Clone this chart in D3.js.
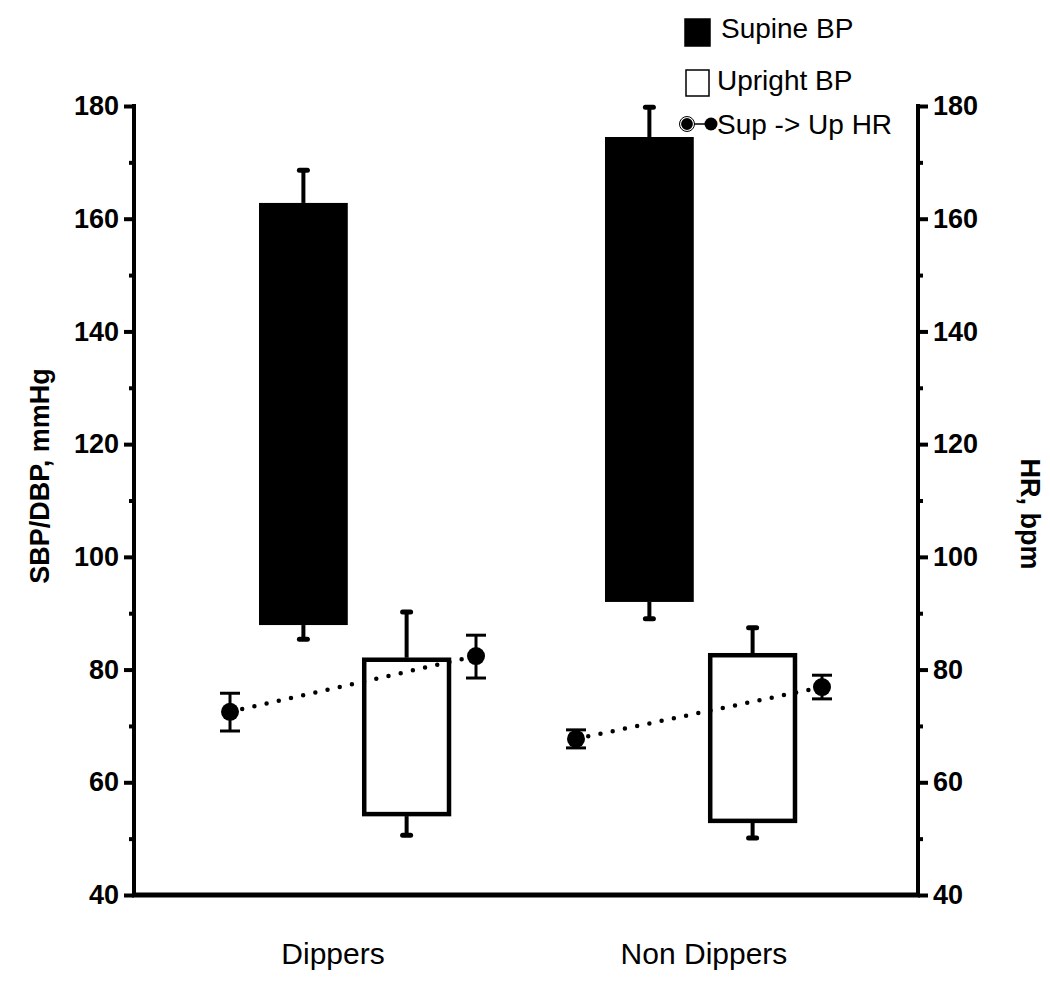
<!DOCTYPE html>
<meta charset="utf-8">
<script src="https://d3js.org/d3.v7.min.js"></script>
<style>
  body { margin: 0; background: #fff; }
  text { font-family: "Liberation Sans", Arial, sans-serif; fill: #000; }
</style>
<div id="chart"></div>
<script>

// groups and series
var groups = ["Dippers", "Non Dippers"];
var bpSeries = ["Supine BP", "Upright BP"];

// floating BP bars: SBP (top) and DBP (bottom) with error
var sbp      = [[162.8, 82.1], [174.5, 82.9]];   // [supine, upright] per group
var sbpErr   = [[168.6, 90.2], [179.8, 87.4]];
var dbp      = [[87.9, 54.0], [92.0, 52.8]];
var dbpErr   = [[85.4, 50.6], [89.0, 50.1]];

// heart rate supine -> upright
var hrPhase = ["sup", "up"];
var hr      = [[72.5, 82.4], [67.7, 76.9]];
var hrLow   = [[69.1, 78.5], [66.1, 74.8]];
var hrHigh  = [[75.8, 86.1], [69.3, 79.0]];

var majorTicks = [40, 60, 80, 100, 120, 140, 160, 180];
var minorTicks = [50, 70, 90, 110, 130, 150, 170];

var width = 1050, height = 1001;
var plotLeft = 134, plotRight = 918, plotTop = 106, plotBottom = 895;

var svg = d3.select("#chart").append("svg")
  .attr("width", width)
  .attr("height", height);

// scales
var y = d3.scaleLinear().domain([40, 180]).range([plotBottom, plotTop]);
var y2 = d3.scaleLinear().domain([40, 180]).range([plotBottom, plotTop]);

var x0 = d3.scalePoint().domain(groups).range([plotLeft, plotRight]).padding(0.633);
var x1 = d3.scaleBand().domain(bpSeries).range([-94, 98]).paddingInner(0.14);
var xh = d3.scalePoint().domain(hrPhase).range([-123, 123]);

// bars
groups.forEach(function(g, gi) {
  var gx = x0(g);
  bpSeries.forEach(function(s, si) {
    var bx = gx + x1(s), bw = x1.bandwidth(), cx = bx + bw / 2;
    var filled = si === 0;

    // error lines (one-sided)
    [[sbp[gi][si], sbpErr[gi][si]], [dbp[gi][si], dbpErr[gi][si]]].forEach(function(e) {
      svg.append("line")
        .attr("x1", cx).attr("x2", cx)
        .attr("y1", y(e[0])).attr("y2", y(e[1]))
        .attr("stroke", "#000").attr("stroke-width", 4);
      svg.append("line")
        .attr("x1", cx - 4).attr("x2", cx + 4)
        .attr("y1", y(e[1])).attr("y2", y(e[1]))
        .attr("stroke", "#000").attr("stroke-width", 5)
        .attr("stroke-linecap", "round");
    });

    svg.append("rect")
      .attr("x", filled ? bx : bx + 2)
      .attr("y", filled ? y(sbp[gi][si]) : y(sbp[gi][si]) + 2)
      .attr("width", filled ? bw : bw - 4)
      .attr("height", y(dbp[gi][si]) - y(sbp[gi][si]) - (filled ? 0 : 4))
      .attr("fill", filled ? "#000" : "#fff")
      .attr("stroke", "#000")
      .attr("stroke-width", filled ? 0 : 4.5);
  });

  // HR dotted line
  svg.append("line")
    .attr("x1", gx + xh("sup")).attr("y1", y2(hr[gi][0]))
    .attr("x2", gx + xh("up")).attr("y2", y2(hr[gi][1]))
    .attr("stroke", "#000").attr("stroke-width", 4.5)
    .attr("stroke-linecap", "round")
    .attr("stroke-dasharray", "0,12.5");

  hrPhase.forEach(function(p, pi) {
    var px = gx + xh(p);
    svg.append("line")
      .attr("x1", px).attr("x2", px)
      .attr("y1", y2(hrLow[gi][pi])).attr("y2", y2(hrHigh[gi][pi]))
      .attr("stroke", "#000").attr("stroke-width", 3);
    [hrLow[gi][pi], hrHigh[gi][pi]].forEach(function(v) {
      svg.append("line")
        .attr("x1", px - 10).attr("x2", px + 10)
        .attr("y1", y2(v)).attr("y2", y2(v))
        .attr("stroke", "#000").attr("stroke-width", 3);
    });
    svg.append("circle")
      .attr("cx", px).attr("cy", y2(hr[gi][pi]))
      .attr("r", 9).attr("fill", "#000");
  });
});

// axes
function styleAxis(a) {
  a.select(".domain").remove();
  a.selectAll(".tick line").attr("stroke", "#000").attr("stroke-width", 4);
  a.selectAll(".tick text")
    .style("font-family", "'Liberation Sans', Arial, sans-serif")
    .style("font-size", "27px").style("font-weight", "bold")
    .attr("fill", "#000");
}

var leftMajor = svg.append("g").attr("transform", "translate(" + plotLeft + ",0)")
  .call(d3.axisLeft(y).tickValues(majorTicks).tickSize(10).tickPadding(5).tickFormat(d3.format("d")));
styleAxis(leftMajor);
var leftMinor = svg.append("g").attr("transform", "translate(" + plotLeft + ",0)")
  .call(d3.axisLeft(y).tickValues(minorTicks).tickSize(5).tickFormat(""));
styleAxis(leftMinor);

var rightMajor = svg.append("g").attr("transform", "translate(" + plotRight + ",0)")
  .call(d3.axisRight(y2).tickValues(majorTicks).tickSize(10).tickPadding(5).tickFormat(d3.format("d")));
styleAxis(rightMajor);
var rightMinor = svg.append("g").attr("transform", "translate(" + plotRight + ",0)")
  .call(d3.axisRight(y2).tickValues(minorTicks).tickSize(5).tickFormat(""));
styleAxis(rightMinor);

// axis lines
svg.append("line").attr("x1", plotLeft).attr("x2", plotLeft).attr("y1", plotTop - 2).attr("y2", plotBottom + 2)
  .attr("stroke", "#000").attr("stroke-width", 4);
svg.append("line").attr("x1", plotRight).attr("x2", plotRight).attr("y1", plotTop - 2).attr("y2", plotBottom + 2)
  .attr("stroke", "#000").attr("stroke-width", 4);
svg.append("line").attr("x1", plotLeft - 2).attr("x2", plotRight + 2).attr("y1", plotBottom).attr("y2", plotBottom)
  .attr("stroke", "#000").attr("stroke-width", 5);

// category labels
groups.forEach(function(g, gi) {
  svg.append("text")
    .attr("x", x0(g) + (gi === 0 ? -20 : 5))
    .attr("y", 964)
    .attr("text-anchor", "middle")
    .style("font-size", "30px")
    .text(g);
});

// axis titles
svg.append("text")
  .attr("transform", "translate(49,476) rotate(-90)")
  .attr("text-anchor", "middle")
  .style("font-size", "27px").style("font-weight", "bold")
  .text("SBP/DBP, mmHg");

svg.append("text")
  .attr("transform", "translate(1021,514) rotate(90)")
  .attr("text-anchor", "middle")
  .style("font-size", "27px").style("font-weight", "bold")
  .text("HR, bpm");

// legend
var lg = svg.append("g");
lg.append("rect").attr("x", 685).attr("y", 19).attr("width", 25).attr("height", 27)
  .attr("fill", "#000").attr("stroke", "#000").attr("stroke-width", 1.5);
lg.append("text").attr("x", 721).attr("y", 38).style("font-size", "28px").text(bpSeries[0]);

lg.append("rect").attr("x", 686).attr("y", 70).attr("width", 23).attr("height", 26)
  .attr("fill", "#fff").attr("stroke", "#000").attr("stroke-width", 1.5);
lg.append("text").attr("x", 717).attr("y", 90).style("font-size", "28px").text(bpSeries[1]);

lg.append("line").attr("x1", 687).attr("x2", 711).attr("y1", 124).attr("y2", 124)
  .attr("stroke", "#000").attr("stroke-width", 1.5);
lg.append("circle").attr("cx", 687).attr("cy", 124).attr("r", 6.5)
  .attr("fill", "#000").attr("stroke", "#fff").attr("stroke-width", 1.2);
lg.append("circle").attr("cx", 687).attr("cy", 124).attr("r", 7.5)
  .attr("fill", "none").attr("stroke", "#000").attr("stroke-width", 1);
lg.append("circle").attr("cx", 711).attr("cy", 124).attr("r", 6.5).attr("fill", "#000");
lg.append("text").attr("x", 717).attr("y", 134).style("font-size", "28px").text("Sup -> Up HR");

</script>
